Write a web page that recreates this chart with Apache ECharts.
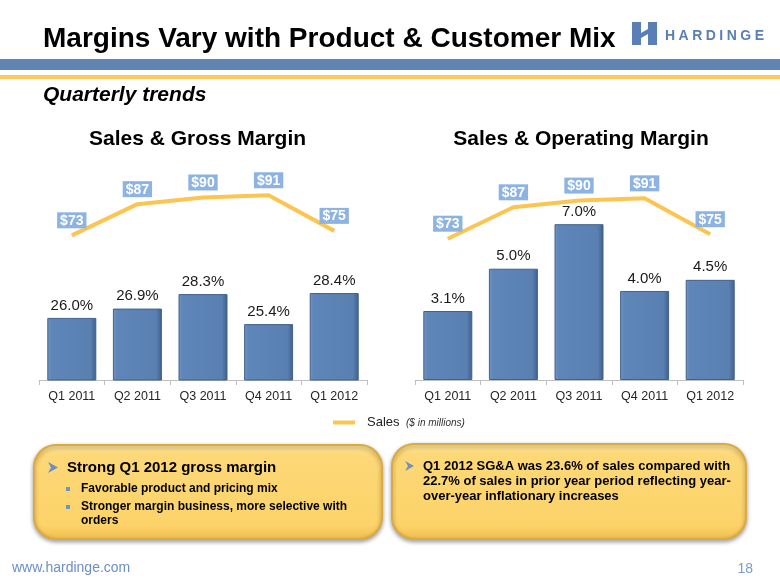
<!DOCTYPE html>
<html>
<head>
<meta charset="utf-8">
<script src="https://cdn.jsdelivr.net/npm/echarts@6/dist/echarts.min.js"></script>
<style>
html,body{margin:0;padding:0;background:#fff;}
#chart{width:780px;height:585px;}
</style>
</head>
<body>
<div id="chart"></div>
<script>
const categories = ['Q1 2011', 'Q2 2011', 'Q3 2011', 'Q4 2011', 'Q1 2012'];
const sales = [73, 87, 90, 91, 75];
const grossMargin = [26.0, 26.9, 28.3, 25.4, 28.4];
const operatingMargin = [3.1, 5.0, 7.0, 4.0, 4.5];

const FONT = 'Liberation Sans, Arial, Helvetica, sans-serif';
const chart = echarts.init(document.getElementById('chart'), null, {renderer: 'canvas', width: 780, height: 585});

const barColor = {
  type: 'linear', x: 0, y: 0, x2: 1, y2: 0,
  colorStops: [
    {offset: 0, color: '#7196c6'},
    {offset: 0.08, color: '#5f86b8'},
    {offset: 0.88, color: '#5a80b2'},
    {offset: 1, color: '#3d5f8c'}
  ]
};
const boxFill = {
  type: 'linear', x: 0, y: 0, x2: 0, y2: 1,
  colorStops: [
    {offset: 0, color: '#fee6a0'},
    {offset: 0.12, color: '#fdd877'},
    {offset: 0.85, color: '#fcd369'},
    {offset: 1, color: '#efbd4c'}
  ]
};

function xAx(gi) {
  return {
    type: 'category', gridIndex: gi, data: categories,
    axisLine: {lineStyle: {color: '#bfbfbf', width: 1}},
    axisTick: {show: true, length: 5, lineStyle: {color: '#bfbfbf'}},
    axisLabel: {color: '#262626', fontSize: 12.5, fontFamily: FONT, margin: 10}
  };
}
function yAx(gi, min, max) {
  return {type: 'value', gridIndex: gi, min: min, max: max, show: false, splitLine: {show: false}};
}
function barSeries(xi, yi, data) {
  return {
    type: 'bar', xAxisIndex: xi, yAxisIndex: yi, data: data, barWidth: 49, z: 2,
    itemStyle: {color: barColor, borderColor: '#42618a', borderWidth: 1},
    label: {show: true, position: 'top', distance: 5, color: '#1a1a1a', fontSize: 15, fontFamily: FONT,
      formatter: p => p.value.toFixed(1) + '%'}
  };
}
function lineSeries(xi, yi) {
  return {
    name: 'Sales', type: 'line', xAxisIndex: xi, yAxisIndex: yi, data: sales, z: 3,
    symbol: 'circle', symbolSize: 0, showSymbol: true,
    lineStyle: {color: '#fcc450', width: 4},
    itemStyle: {color: '#fcc450'},
    label: {show: true, position: 'top', distance: 7, color: '#ffffff', fontWeight: 'bold',
      fontSize: 14, fontFamily: FONT, lineHeight: 15, backgroundColor: '#8db3e2', padding: [1, 3, 0, 3],
      formatter: p => '$' + p.value}
  };
}

// logo letters, evenly letter-spaced between x=665 and x=766
const logoText = 'HARDINGE';
const mctx = document.createElement('canvas').getContext('2d');
mctx.font = 'bold 14px ' + FONT;
const lw = logoText.split('').map(ch => mctx.measureText(ch).width);
const totalW = lw.reduce((a, b) => a + b, 0);
const gap = (99 - totalW) / (logoText.length - 1);
let cx = 665;
const logoGraphics = logoText.split('').map((ch, i) => {
  const g = {type: 'text', x: cx, y: 36, style: {text: ch, fill: '#5a7fb5', font: 'bold 14px ' + FONT, textVerticalAlign: 'middle'}};
  cx += lw[i] + gap;
  return g;
});

const option = {
  backgroundColor: '#ffffff',
  animation: false,
  grid: [
    {left: 39, top: 173, width: 328, height: 207},
    {left: 415, top: 173, width: 328, height: 207}
  ],
  xAxis: [xAx(0), xAx(1)],
  yAxis: [yAx(0, 20, 40), yAx(0, 8, 101), yAx(1, 0, 9.3), yAx(1, 10, 102.3)],
  legend: {
    data: ['Sales'], left: 333, top: 416, padding: 0,
    icon: 'rect', itemWidth: 22, itemHeight: 4,
    textStyle: {color: '#222', fontSize: 13, fontFamily: FONT, padding: [0, 0, 0, 7]}
  },
  series: [
    barSeries(0, 0, grossMargin),
    lineSeries(0, 1),
    barSeries(1, 2, operatingMargin),
    lineSeries(1, 3)
  ],
  graphic: [
    {type: 'text', x: 43, y: 39.5, style: {text: 'Margins Vary with Product & Customer Mix', fill: '#000', font: 'bold 28px ' + FONT, textVerticalAlign: 'middle'}},
    {type: 'rect', shape: {x: 0, y: 59, width: 780, height: 11}, style: {fill: '#6085b2'}},
    {type: 'rect', shape: {x: 0, y: 75, width: 780, height: 4}, style: {fill: '#fdc95e'}},
    {type: 'rect', shape: {x: 632, y: 22, width: 25, height: 23}, style: {fill: '#5a7fb5'}},
    {type: 'polygon', shape: {points: [[641, 22], [648, 22], [648, 29], [641, 33]]}, style: {fill: '#fff'}},
    {type: 'polygon', shape: {points: [[641, 38], [648, 34], [648, 45], [641, 45]]}, style: {fill: '#fff'}},
    ...logoGraphics,
    {type: 'text', x: 43, y: 95.5, style: {text: 'Quarterly trends', fill: '#000', font: 'italic bold 21px ' + FONT, textVerticalAlign: 'middle'}},
    {type: 'text', x: 197.5, y: 139.5, style: {text: 'Sales & Gross Margin', fill: '#000', font: 'bold 21px ' + FONT, textAlign: 'center', textVerticalAlign: 'middle'}},
    {type: 'text', x: 581, y: 139.5, style: {text: 'Sales & Operating Margin', fill: '#000', font: 'bold 21px ' + FONT, textAlign: 'center', textVerticalAlign: 'middle'}},
    {type: 'text', x: 406, y: 423, style: {text: '($ in millions)', fill: '#333', font: 'italic 10px ' + FONT, textVerticalAlign: 'middle'}},
    {type: 'rect', shape: {x: 34, y: 445, width: 348, height: 94, r: 22},
      style: {fill: boxFill, stroke: '#dcaa3e', lineWidth: 2, shadowBlur: 4, shadowColor: 'rgba(0,0,0,0.35)', shadowOffsetY: 2}},
    {type: 'rect', shape: {x: 392, y: 444, width: 354, height: 95, r: 22},
      style: {fill: boxFill, stroke: '#dcaa3e', lineWidth: 2, shadowBlur: 4, shadowColor: 'rgba(0,0,0,0.35)', shadowOffsetY: 2}},
    {type: 'polygon', shape: {points: [[48, 462], [58, 467.5], [48, 473], [51, 467.5]]}, style: {fill: '#6d8fc2'}},
    {type: 'text', x: 67, y: 467.8, style: {text: 'Strong Q1 2012 gross margin', fill: '#000', font: 'bold 15px ' + FONT, textVerticalAlign: 'middle'}},
    {type: 'rect', shape: {x: 66, y: 487, width: 4, height: 4}, style: {fill: '#6d93c8'}},
    {type: 'text', x: 81, y: 488.8, style: {text: 'Favorable product and pricing mix', fill: '#000', font: 'bold 12px ' + FONT, textVerticalAlign: 'middle'}},
    {type: 'rect', shape: {x: 66, y: 505, width: 4, height: 4}, style: {fill: '#6d93c8'}},
    {type: 'text', x: 81, y: 506.8, style: {text: 'Stronger margin business, more selective with', fill: '#000', font: 'bold 12px ' + FONT, textVerticalAlign: 'middle'}},
    {type: 'text', x: 81, y: 520.8, style: {text: 'orders', fill: '#000', font: 'bold 12px ' + FONT, textVerticalAlign: 'middle'}},
    {type: 'polygon', shape: {points: [[405, 461], [414, 466], [405, 471], [408, 466]]}, style: {fill: '#6d8fc2'}},
    {type: 'text', x: 423, y: 466.5, style: {text: 'Q1 2012 SG&A was 23.6% of sales compared with', fill: '#000', font: 'bold 13px ' + FONT, textVerticalAlign: 'middle'}},
    {type: 'text', x: 423, y: 481.5, style: {text: '22.7% of sales in prior year period reflecting year-', fill: '#000', font: 'bold 13px ' + FONT, textVerticalAlign: 'middle'}},
    {type: 'text', x: 423, y: 496.5, style: {text: 'over-year inflationary increases', fill: '#000', font: 'bold 13px ' + FONT, textVerticalAlign: 'middle'}},
    {type: 'text', x: 12, y: 568, style: {text: 'www.hardinge.com', fill: '#6b8fc6', font: '14px ' + FONT, textVerticalAlign: 'middle'}},
    {type: 'text', x: 753, y: 569, style: {text: '18', fill: '#7b9dcb', font: '14px ' + FONT, textAlign: 'right', textVerticalAlign: 'middle'}}
  ]
};
chart.setOption(option);
</script>
</body>
</html>
